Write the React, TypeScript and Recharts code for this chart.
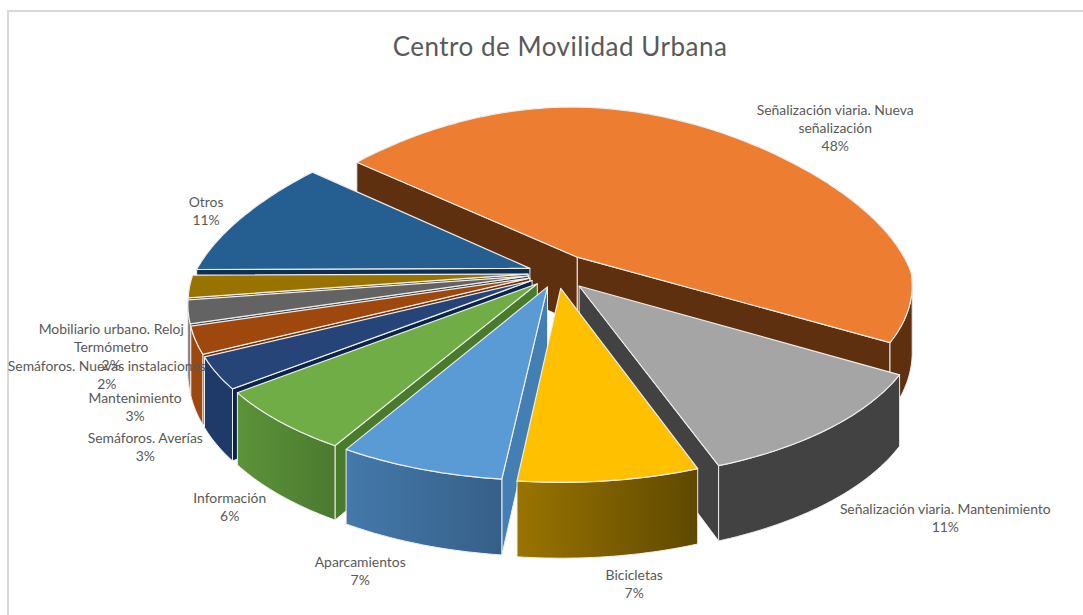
import React from "react";
import { PieChart, Pie } from "recharts";

// ---------- data ----------
const categories = [
  ["Señalización viaria. Nueva", "señalización"],
  ["Señalización viaria. Mantenimiento"],
  ["Bicicletas"],
  ["Aparcamientos"],
  ["Información"],
  ["Semáforos. Averías"],
  ["Mantenimiento"],
  ["Semáforos. Nuevas instalaciones"],
  ["Mobiliario urbano. Reloj", "Termómetro"],
  ["Otros"],
];
const values = [47.7, 11.2, 7.49, 6.9, 6.2, 3.1, 2.6, 2.2, 2.1, 10.52];

// ---------- styles ----------
const topColors = ["#ED7D31", "#A5A5A5", "#FFC000", "#5B9BD5", "#70AD47", "#264478", "#9E480E", "#636363", "#997300", "#255E91"];
const rimFrom = ["#5E3010", "#424242", "#9A7400", "#4479AB", "#5C9339", "#1F3A68", "#9E480E", "#555555", "#7A5C00", "#1E4C76"];
const rimTo = ["#5E3010", "#424242", "#5F4900", "#365F88", "#4C7A2F", "#1F3A68", "#9E480E", "#555555", "#7A5C00", "#1E4C76"];
const cutColors = ["#5E3010", "#424242", "#6B5200", "#437FB3", "#4A7A2C", "#0C2448", "#6E3208", "#3A3A3A", "#5A4400", "#0E2F50"];
const explode = [0.113, 0.1, 0.09, 0.086, 0.086, 0.086, 0.086, 0.086, 0.086, 0.086];
const labelDx = [125, 119, 25, -59, -49, -70, -59, -80, -77, -36];
const labelDy = [-17, 87, 99, 97, 81, 69, 62, 59, 48, -9];

const table = categories.map((lines, idx) => ({ name: lines.join(" "), value: values[idx], idx, fill: topColors[idx] }));
const reversedTable = [...table].reverse();

// ---------- 3D projection ----------
const TILT = 0.506;
const PERSP = 0.108;
const DEPTH = 67;
const START = 142.5;
const END = -217.5;
const TEXT = "#595959";
const FONT = "Lato, Carlito, sans-serif";
const EDGE = "#EDEDED";

type Pt = { x: number; y: number; s: number };
const rad = (d: number) => (d * Math.PI) / 180;
const project = (cx: number, cy: number, R: number, X: number, Y: number): Pt => {
  const s = 1 / (1 - PERSP * Y);
  const sx = Y > 0 ? 1 + 0.16 * Y : 1 + 0.26 * Y;
  return { x: cx + R * X * sx, y: cy + TILT * R * Y * s, s };
};
const slicePoints = (p: any) => {
  const { cx, cy, outerRadius: R, startAngle, endAngle, midAngle, idx } = p;
  const ax = explode[idx] * Math.cos(rad(midAngle));
  const ay = -explode[idx] * Math.sin(rad(midAngle));
  const apex = project(cx, cy, R, ax, ay);
  const n = Math.max(4, Math.ceil(Math.abs(endAngle - startAngle)));
  const rim: Pt[] = [];
  for (let i = 0; i <= n; i++) {
    const a = startAngle + ((endAngle - startAngle) * i) / n;
    rim.push(project(cx, cy, R, ax + Math.cos(rad(a)), ay - Math.sin(rad(a))));
  }
  // keep the rim in clockwise screen order
  if (endAngle > startAngle) rim.reverse();
  return { apex, rim };
};
const down = (q: Pt): Pt => ({ x: q.x, y: q.y + DEPTH * q.s, s: q.s });
const toPath = (pts: Pt[]) => "M" + pts.map((q) => `${q.x.toFixed(1)},${q.y.toFixed(1)}`).join("L") + "Z";

const TopShape = (p: any) => {
  const { apex, rim } = slicePoints(p);
  return <path d={toPath([apex, ...rim])} fill={topColors[p.idx]} stroke={EDGE} strokeWidth={1.2} strokeLinejoin="round" />;
};

const wallShape = (only: (i: number) => boolean) => (p: any) => {
  if (!only(p.idx)) return <g />;
  const { apex, rim } = slicePoints(p);
  const first = rim[0];
  const last = rim[rim.length - 1];
  const visibleRim = rim.filter((q, i) => (i > 0 && rim[i - 1].x > q.x) || (i < rim.length - 1 && rim[i + 1].x < q.x));
  const wall = (pts: Pt[], fill: string, key: string) => (
    <path key={key} d={toPath([...pts, ...[...pts].reverse().map(down)])} fill={fill} stroke={EDGE} strokeWidth={1} strokeLinejoin="round" />
  );
  return (
    <g>
      {first.x < apex.x ? wall([apex, first], cutColors[p.idx], "a") : null}
      {apex.x < last.x ? wall([last, apex], cutColors[p.idx], "b") : null}
      {visibleRim.length > 1 ? wall(visibleRim, `url(#rim${p.idx})`, "c") : null}
    </g>
  );
};

const renderLabel = (p: any) => {
  const { cx, cy, outerRadius: R, midAngle, index, percent } = p;
  const c = Math.cos(rad(midAngle));
  const s = -Math.sin(rad(midAngle));
  const m = project(cx, cy, R, 1.09 * c, 1.09 * s);
  const x = m.x + labelDx[index];
  const y = m.y + labelDy[index];
  const lines = [...categories[index], `${Math.round(percent * 100)}%`];
  return (
    <text key={index} x={x} y={y} textAnchor="middle" fontFamily={FONT} fontSize={13.9} fill={TEXT}>
      {lines.map((t, i) => (
        <tspan key={i} x={x} y={y + i * 18}>
          {t}
        </tspan>
      ))}
    </text>
  );
};

export default function App() {
  const common = {
    dataKey: "value",
    nameKey: "name",
    cx: 557,
    cy: 273,
    innerRadius: 0,
    outerRadius: 335,
    stroke: "none",
    isAnimationActive: false,
    labelLine: false,
  } as const;
  return (
    <div style={{ position: "absolute", left: 0, top: 0, width: 1083, height: 615, background: "#fff", overflow: "hidden" }}>
      <div style={{ position: "absolute", left: 7, top: 10, width: 1090, height: 620, border: "2px solid #D9D9D9", boxSizing: "border-box" }} />
      <div style={{ position: "absolute", left: 0, top: 30, width: 1120, textAlign: "center", fontFamily: FONT, fontSize: 26, color: TEXT, letterSpacing: 0.5, whiteSpace: "nowrap" }}>
        Centro de Movilidad Urbana
      </div>
      <div style={{ position: "absolute", left: 0, top: 0 }}>
        <PieChart width={1083} height={615} margin={{ top: 0, right: 0, bottom: 0, left: 0 }}>
          <defs>
            {rimFrom.map((c, i) => (
              <linearGradient key={i} id={`rim${i}`} x1="0" y1="0" x2="1" y2="0">
                <stop offset="0%" stopColor={c} />
                <stop offset="100%" stopColor={rimTo[i]} />
              </linearGradient>
            ))}
          </defs>
          <Pie {...common} data={table} startAngle={START} endAngle={END} shape={wallShape((i) => i === 0 || i === 1)} />
          <Pie {...common} data={reversedTable} startAngle={END} endAngle={START} shape={wallShape((i) => i > 1)} />
          <Pie {...common} data={table} startAngle={START} endAngle={END} shape={TopShape} label={renderLabel} />
        </PieChart>
      </div>
    </div>
  );
}
